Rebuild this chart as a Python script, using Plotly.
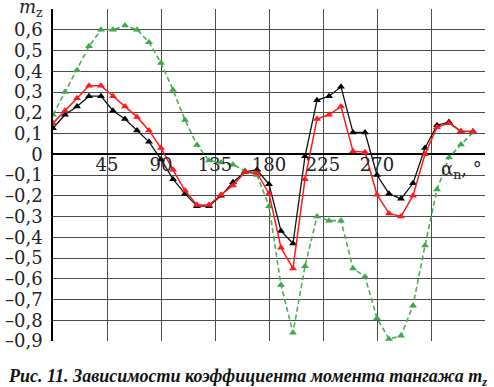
import plotly.graph_objects as go

angles = [0, 10, 20, 30, 40, 50, 60, 70, 80, 90, 100, 110, 120, 130, 140, 150, 160, 170,
          180, 190, 200, 210, 220, 230, 240, 250, 260, 270, 280, 290, 300, 310, 320, 330, 340, 350]

black_mz = [0.125, 0.19, 0.23, 0.28, 0.28, 0.21, 0.17, 0.115, 0.06, -0.025, -0.12, -0.19,
            -0.25, -0.25, -0.20, -0.135, -0.085, -0.075, -0.145, -0.37, -0.43, -0.01, 0.26, 0.28,
            0.325, 0.105, 0.105, -0.10, -0.19, -0.215, -0.14, 0.03, 0.14, 0.155, 0.11, 0.11]

red_mz = [0.15, 0.21, 0.27, 0.33, 0.33, 0.28, 0.23, 0.18, 0.115, 0.03, -0.075, -0.175,
          -0.245, -0.245, -0.195, -0.15, -0.085, -0.09, -0.19, -0.45, -0.55, -0.12, 0.17, 0.19,
          0.23, 0.015, 0.01, -0.195, -0.285, -0.30, -0.20, 0.0, 0.13, 0.15, 0.11, 0.11]

green_mz = [0.19, 0.30, 0.405, 0.52, 0.60, 0.60, 0.62, 0.60, 0.54, 0.44, 0.31, 0.165,
            0.045, -0.03, -0.04, -0.05, -0.08, -0.10, -0.25, -0.63, -0.86, -0.54, -0.30, -0.32,
            -0.32, -0.55, -0.59, -0.79, -0.89, -0.875, -0.73, -0.44, -0.17, -0.016, 0.047, 0.105]

x_tickvals = [0, 45, 90, 135, 180, 225, 270, 315, 360]
x_ticktext = ["", "45", "90", "135", "180", "225", "270", "", ""]

y_tickvals = [-0.9, -0.8, -0.7, -0.6, -0.5, -0.4, -0.3, -0.2, -0.1, 0, 0.1, 0.2, 0.3, 0.4, 0.5, 0.6, 0.7]
y_ticktext = ["–0,9", "–0,8", "–0,7", "–0,6", "–0,5", "–0,4", "–0,3", "–0,2", "–0,1", "0",
              "0,1", "0,2", "0,3", "0,4", "0,5", "0,6", ""]

x_title = "α<sub>n</sub>, °"
y_title = "<i>m</i><sub>z</sub>"
caption = "<b><i>Рис. 11. Зависимости коэффициента момента тангажа m<sub>z</sub></i></b>"

Y_MIN, Y_MAX = -0.9, 0.7

fig = go.Figure()
fig.add_trace(go.Scatter(x=angles, y=green_mz, mode="lines+markers",
                         line=dict(color="#4cae55", width=1.6, dash="5px,3px"),
                         marker=dict(symbol="triangle-up", size=7, color="#3fa84a")))
fig.add_trace(go.Scatter(x=angles, y=black_mz, mode="lines+markers",
                         line=dict(color="#111111", width=1.3),
                         marker=dict(symbol="triangle-up", size=7, color="#000000")))
fig.add_trace(go.Scatter(x=angles, y=red_mz, mode="lines+markers",
                         line=dict(color="#ff1a1a", width=1.5),
                         marker=dict(symbol="triangle-up", size=7, color="#ff1a1a")))

zero_pos = (0 - Y_MIN) / (Y_MAX - Y_MIN)

fig.update_layout(
    width=494, height=387,
    margin=dict(l=53, r=9, t=9, b=46, autoexpand=False),
    paper_bgcolor="white", plot_bgcolor="white",
    showlegend=False,
    font=dict(family="DejaVu Serif", color="#222222"),
    xaxis=dict(range=[0, 360], tickvals=x_tickvals, ticktext=x_ticktext,
               showgrid=True, gridcolor="#4a4a4a", gridwidth=1.2,
               zeroline=False, showline=False, ticks="", automargin=False,
               anchor="free", position=zero_pos, ticklabelstandoff=-2,
               tickfont=dict(family="DejaVu Serif", size=18, color="#222222")),
    yaxis=dict(range=[Y_MIN, Y_MAX], tickvals=y_tickvals, ticktext=y_ticktext,
               showgrid=True, gridcolor="#4a4a4a", gridwidth=1.2,
               zeroline=True, zerolinecolor="#000000", zerolinewidth=2,
               showline=True, linecolor="#000000", linewidth=1.5,
               ticks="", ticklabelstandoff=5, automargin=False,
               tickfont=dict(family="DejaVu Serif", size=18, color="#222222")),
    annotations=[
        dict(text=y_title, xref="paper", yref="paper", x=-0.05, y=1.0,
             xanchor="center", yanchor="middle", yshift=1, showarrow=False,
             font=dict(family="DejaVu Serif", size=18, color="#222222")),
        dict(text=x_title, xref="x", yref="y", x=340, y=0,
             xanchor="center", yanchor="top", yshift=-2, showarrow=False,
             font=dict(family="DejaVu Serif", size=18, color="#222222")),
        dict(text=caption, xref="paper", yref="paper", x=0.5, y=0, yshift=-36,
             xanchor="center", yanchor="middle", xshift=-22, showarrow=False,
             font=dict(family="Liberation Serif", size=18, color="#111111")),
    ],
)

fig.write_html("out.html", config={"displayModeBar": False},
               post_script=["document.body.style.margin='0';"])
